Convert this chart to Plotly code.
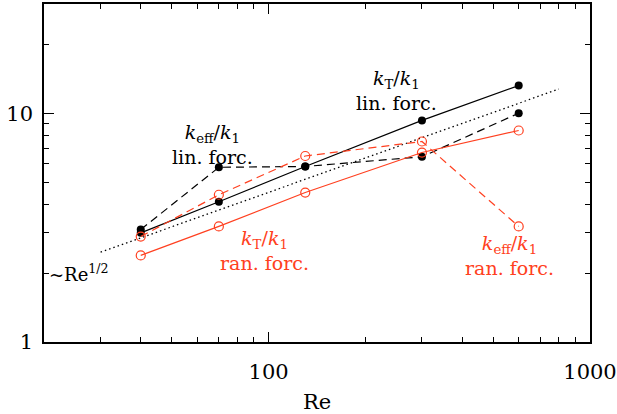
import plotly.graph_objects as go
import math

re_vals = [40, 70, 130, 300, 600]
kT_lin = [3.0, 4.1, 5.85, 9.3, 13.2]
keff_lin = [3.1, 5.8, 5.85, 6.45, 10.0]
kT_ran = [2.39, 3.2, 4.5, 6.73, 8.4]
keff_ran = [2.89, 4.4, 6.5, 7.52, 3.2]
fit_re = [30, 800]
fit_k = [2.47, 12.75]

RED = "#ff4020"
FONT = "DejaVu Serif"

fig = go.Figure()
fig.add_trace(go.Scatter(x=fit_re, y=fit_k, mode="lines",
                         line=dict(color="black", width=1.3, dash="1.5px,3px")))
fig.add_trace(go.Scatter(x=re_vals, y=keff_lin, mode="lines+markers",
                         line=dict(color="black", width=1.2, dash="8px,5px"),
                         marker=dict(color="black", size=8)))
fig.add_trace(go.Scatter(x=re_vals, y=kT_lin, mode="lines+markers",
                         line=dict(color="black", width=1.2),
                         marker=dict(color="black", size=8)))
fig.add_trace(go.Scatter(x=re_vals, y=keff_ran, mode="lines+markers",
                         line=dict(color=RED, width=1.2, dash="8px,5px"),
                         marker=dict(symbol="circle-open", color=RED, size=9, line=dict(width=1.2))))
fig.add_trace(go.Scatter(x=re_vals, y=kT_ran, mode="lines+markers",
                         line=dict(color=RED, width=1.2),
                         marker=dict(symbol="circle-open", color=RED, size=9, line=dict(width=1.2))))

def lx(v):
    return math.log10(v)

ann = [
    ("<i>k</i><sub>T</sub>/<i>k</i><sub>1</sub><br>lin. forc.", 10**2.398, 10**1.10, "black", 19),
    ("<i>k</i><sub>eff</sub>/<i>k</i><sub>1</sub><br>lin. forc.", 10**1.826, 10**0.862, "black", 19),
    ("<i>k</i><sub>T</sub>/<i>k</i><sub>1</sub><br>ran. forc.", 10**1.988, 10**0.40, RED, 19),
    ("<i>k</i><sub>eff</sub>/<i>k</i><sub>1</sub><br>ran. forc.", 10**2.748, 10**0.378, RED, 19),
    ("~Re<sup>1/2</sup>", 10**1.41, 10**0.303, "black", 18),
]
for text, x, y, c, s in ann:
    fig.add_annotation(x=lx(x), y=lx(y), text=text, showarrow=False,
                       font=dict(family=FONT, size=s, color=c), align="center")

xminor = [30, 40, 50, 60, 70, 80, 90, 200, 300, 400, 500, 600, 700, 800, 900]
yminor = [2, 3, 4, 5, 6, 7, 8, 9, 20, 30]

fig.update_xaxes(type="log", range=[math.log10(20), 3], automargin=False,
                 tickvals=[100, 1000], ticktext=["100", "1000"],
                 ticks="inside", ticklen=10, tickwidth=1, tickcolor="black",
                 ticklabelstandoff=10,
                 minor=dict(tickvals=xminor, ticks="inside", ticklen=5, tickcolor="black", showgrid=False),
                 showline=True, linecolor="black", linewidth=1.5, mirror="ticks",
                 showgrid=False, zeroline=False,
                 title=dict(text="Re", font=dict(family=FONT, size=21, color="black"), standoff=13),
                 tickfont=dict(family=FONT, size=21, color="black"))
fig.update_yaxes(type="log", range=[0, math.log10(30)], automargin=False,
                 tickvals=[1, 10], ticktext=["1", "10"],
                 ticks="inside", ticklen=10, tickwidth=1, tickcolor="black",
                 ticklabelstandoff=5,
                 minor=dict(tickvals=yminor, ticks="inside", ticklen=5, tickcolor="black", showgrid=False),
                 showline=True, linecolor="black", linewidth=1.5, mirror="ticks",
                 showgrid=False, zeroline=False,
                 tickfont=dict(family=FONT, size=21, color="black"))
fig.update_layout(width=617, height=414, showlegend=False,
                  margin=dict(l=44, r=27, t=4, b=72),
                  plot_bgcolor="white", paper_bgcolor="white")
fig.write_html("out.html", config={"displayModeBar": False},
               post_script="document.body.style.margin='0px';document.body.style.overflow='hidden';")
